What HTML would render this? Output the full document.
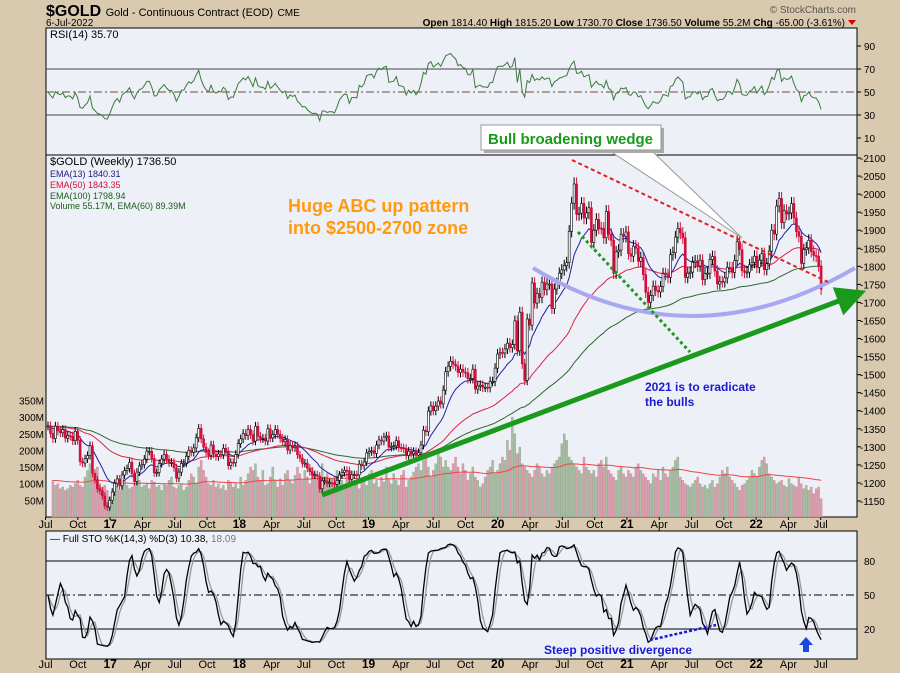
<!DOCTYPE html>
<html><head><meta charset="utf-8"><style>
body{margin:0;background:#d9c9ae;}
svg{display:block;font-family:"Liberation Sans",sans-serif;}
</style></head><body>
<svg id="chart" width="900" height="673" viewBox="0 0 900 673" xmlns="http://www.w3.org/2000/svg">
<rect x="0" y="0" width="900" height="673" fill="#d9c9ae"/>
<g>
<text x="46" y="16" font-size="16" font-weight="bold" fill="#000">$GOLD <tspan font-size="11" font-weight="normal">Gold - Continuous Contract (EOD)</tspan> <tspan font-size="10" font-weight="normal">CME</tspan></text>
<text x="46" y="26" font-size="10" fill="#000">6-Jul-2022</text>
<text x="856" y="13" font-size="10" fill="#555" text-anchor="end">© StockCharts.com</text>
<text x="845" y="26" font-size="10" fill="#000" text-anchor="end"><tspan font-weight="bold">Open</tspan> 1814.40 <tspan font-weight="bold">High</tspan> 1815.20 <tspan font-weight="bold">Low</tspan> 1730.70 <tspan font-weight="bold">Close</tspan> 1736.50 <tspan font-weight="bold">Volume</tspan> 55.2M <tspan font-weight="bold">Chg</tspan> -65.00 (-3.61%)</text>
<path d="M848,20 L856,20 L852,25 Z" fill="#d00"/>
</g>
<rect x="46" y="28" width="811" height="127" fill="#eef0f8" stroke="#000"/>
<rect x="46" y="155" width="811" height="362" fill="#eef0f8" stroke="#000"/>
<rect x="46" y="531" width="811" height="128" fill="#eef0f8" stroke="#000"/>
<g id="layers"></g>
</svg>
<script>
const closes=[1358,1337,1323,1357,1344,1339,1348,1324,1331,1330,1317,1343,1318,1259,1255,1267,1276,1303,1227,1209,1184,1178,1164,1137,1133,1152,
1175,1199,1211,1192,1222,1234,1240,1257,1226,1204,1230,1247,1251,1266,1288,1288,1268,1228,1229,1254,1266,1279,1266,1256,1257,1242,1213,1230,1254,1255,1274,1290,1285,1297,1325,1351,1322,1299,1284,1276,1305,1280,1273,1280,1278,1296,1288,1248,1257,1256,1279,1309,
1322,1337,1331,1348,1334,1316,1357,1329,1323,1324,1316,1350,1325,1334,1348,1335,1323,1314,1320,1291,1304,1298,1302,1278,1269,1254,1255,1241,1231,1222,1223,1219,1184,1206,1206,1199,1201,1200,1196,1207,1222,1229,1235,1234,1210,1223,1223,1222,1252,1248,1258,1283,
1287,1289,1282,1305,1319,1316,1327,1330,1299,1301,1303,1317,1298,1297,1295,1276,1288,1281,1287,1277,1284,1305,1346,1342,1399,1413,1400,1413,1427,1419,1457,1508,1523,1537,1529,1524,1506,1515,1507,1505,1489,1489,1515,1460,1468,1471,1465,1465,1464,1481,1481,1518,
1557,1561,1560,1571,1587,1575,1583,1649,1566,1673,1530,1484,1654,1637,1754,1698,1725,1713,1756,1735,1751,1751,1683,1737,1753,1781,1790,1802,1810,1897,1975,2028,1944,1947,1974,1934,1948,1962,1866,1900,1930,1906,1905,1879,1952,1889,1872,1781,1840,1845,1889,1883,
1895,1835,1828,1856,1850,1814,1824,1777,1728,1700,1719,1745,1733,1729,1744,1780,1777,1769,1832,1838,1881,1905,1892,1879,1769,1781,1784,1811,1815,1801,1817,1763,1780,1781,1819,1827,1787,1751,1758,1757,1768,1797,1796,1783,1816,1868,1846,1788,1783,1784,1804,1811,1828,
1797,1817,1835,1791,1807,1842,1900,1889,1967,1988,1921,1954,1945,1948,1974,1934,1896,1883,1808,1846,1851,1872,1841,1830,1828,1801,1736.5];
const volumes=[110,95,100,85,90,80,85,95,90,100,110,95,90,120,140,160,130,120,150,100,90,95,80,60,45,70,
90,80,100,110,95,85,90,100,120,110,90,95,100,85,110,105,90,95,80,100,95,110,120,90,85,95,100,80,90,110,130,120,100,150,170,140,120,100,95,110,90,100,85,95,80,110,105,90,100,85,120,95,
110,130,150,140,160,120,110,140,95,100,120,150,110,90,115,95,130,140,110,100,125,150,130,110,140,120,100,150,130,110,95,160,120,130,115,100,120,140,130,110,95,125,130,90,100,110,85,105,
120,95,130,140,100,110,90,120,105,150,115,100,130,110,95,125,140,90,110,120,135,150,160,140,170,180,150,120,140,160,190,180,150,170,150,140,160,180,150,130,160,140,110,130,150,120,110,90,100,120,140,
150,170,130,140,160,180,170,230,200,300,250,190,210,160,150,140,130,120,140,160,150,130,120,140,130,150,160,170,180,220,250,230,180,170,160,150,140,130,180,150,140,130,140,120,160,170,150,180,140,130,120,110,
140,150,130,120,140,130,120,150,160,140,130,120,110,100,130,120,140,110,150,130,120,140,150,170,180,120,110,100,95,90,100,110,120,100,90,95,85,100,110,90,100,120,140,130,150,120,110,100,90,80,95,
100,110,120,140,130,120,150,170,180,160,130,120,110,100,105,110,95,90,115,100,95,90,120,100,85,95,80,90,70,85,90,55];
const priceTicks=[2100,2050,2000,1950,1900,1850,1800,1750,1700,1650,1600,1550,1500,1450,1400,1350,1300,1250,1200,1150];
const volTicks=[350,300,250,200,150,100,50];
const rsiTicks=[90,70,50,30,10];
const stoTicks=[80,50,20];
const monthLabels=["Jul","Oct","17","Apr","Jul","Oct","18","Apr","Jul","Oct","19","Apr","Jul","Oct","20","Apr","Jul","Oct","21","Apr","Jul","Oct","22","Apr","Jul"];

const NS="http://www.w3.org/2000/svg";
const L=document.getElementById('layers');
function mk(tag,attrs,parent){const e=document.createElementNS(NS,tag);for(const k in attrs)e.setAttribute(k,attrs[k]);(parent||L).appendChild(e);return e;}
const xw=i=>48+i*2.47;
const yP=p=>158+(2100-p)*343/950;
const yV=v=>517-v*0.333;
const yR=v=>92-(v-50)*1.15;
const yS=v=>595-(v-50)*1.133;
const N=closes.length;
const opens=closes.map((c,i)=>i?closes[i-1]:c);
const highs=closes.map((c,i)=>Math.max(c,opens[i])*(1+0.009));
const lows=closes.map((c,i)=>Math.min(c,opens[i])*(1-0.009));
function ema(a,n){const k=2/(n+1);let out=[],e=a[0];a.forEach((v,i)=>{e=i?v*k+e*(1-k):v;out.push(e);});return out;}
function poly(vals,fx,fy,attrs,name){const p=mk('polyline',Object.assign({points:vals.map((v,i)=>fx(i).toFixed(1)+','+fy(v).toFixed(1)).join(' '),fill:'none'},attrs));

return p;}

const g=mk('g',{});


rsiTicks.forEach(v=>{mk('line',{x1:857,x2:861,y1:yR(v),y2:yR(v),stroke:'#000'},g);const t=mk('text',{x:864,y:yR(v)+4,'font-size':10},g);t.textContent=v;});
[70,30].forEach(v=>mk('line',{x1:46,x2:857,y1:yR(v),y2:yR(v),stroke:'#444'},g));
mk('line',{x1:46,x2:857,y1:yR(50),y2:yR(50),stroke:'#6a4a3a','stroke-dasharray':'8,3,2,3'},g);
priceTicks.forEach(v=>{mk('line',{x1:857,x2:861,y1:yP(v),y2:yP(v),stroke:'#000'},g);const t=mk('text',{x:860,y:yP(v)+4,'font-size':10},g);t.textContent='-'+v;});
volTicks.forEach(v=>{const t=mk('text',{x:44,y:yV(v)+4,'font-size':10,'text-anchor':'end'},g);t.textContent=v+'M';});
stoTicks.forEach(v=>{mk('line',{x1:46,x2:857,y1:yS(v),y2:yS(v),stroke:'#000','stroke-dasharray':v==50?'8,3,2,3':'none'},g);const t=mk('text',{x:864,y:yS(v)+4,'font-size':10},g);t.textContent=v;});
monthLabels.forEach((m,i)=>{const x=xw(-1)+i*32.3;const bold=/^\d/.test(m);
[524,664].forEach(y=>{const t=mk('text',{x:x,y:y+4,'font-size':bold?12:11,'font-weight':bold?'bold':'normal','text-anchor':'middle'},g);t.textContent=m;});
mk('line',{x1:x,x2:x,y1:517,y2:520,stroke:'#000'},g);});

const vg=mk('g',{});


const vOff=N-volumes.length;
volumes.forEach((v,j)=>{const i=j+vOff;if(i<0)return;const up=closes[i]>=opens[i];const r=mk('rect',{x:xw(i)-1,y:yV(v),width:2,height:517-yV(v),fill:up?'#a9bda5':'#d9a0b0',stroke:up?'#8ea88a':'#c98898','stroke-width':0.4},vg);

});
poly(ema(volumes,60),j=>xw(j+vOff),yV,{stroke:'#ee4444','stroke-width':1},'volume-ema60');

poly(ema(closes,100),xw,yP,{stroke:'#2a6a2a','stroke-width':1},'ema100-line');
poly(ema(closes,50),xw,yP,{stroke:'#dd2244','stroke-width':1},'ema50-line');
poly(ema(closes,13),xw,yP,{stroke:'#2020a0','stroke-width':1},'ema13-line');

const cg=mk('g',{});


closes.forEach((c,i)=>{const up=c>=opens[i];const col=up?'#000':'#d0103a';const x=xw(i);
const w=mk('line',{x1:x,x2:x,y1:yP(highs[i]),y2:yP(lows[i]),stroke:col,'stroke-width':1},cg);


const b=mk('rect',{x:x-1,y:yP(Math.max(c,opens[i])),width:2,height:Math.max(1,Math.abs(yP(c)-yP(opens[i]))),fill:up?'#fff':col,stroke:col,'stroke-width':0.6},cg);

});

function rsi(a,n){let out=[],ag=12,al=12;for(let i=0;i<a.length;i++){if(i==0){out.push(50);continue;}const d=a[i]-a[i-1];const gn=Math.max(d,0),ls=Math.max(-d,0);
ag=(ag*(n-1)+gn)/n;al=(al*(n-1)+ls)/n;out.push(al==0?100:100-100/(1+ag/al));}return out;}
poly(rsi(closes,14),xw,yR,{stroke:'#3a7a3a','stroke-width':1},'rsi-line');

const raw=closes.map((c,i)=>{const s=Math.max(0,i-13);const hh=Math.max(...highs.slice(s,i+1)),ll=Math.min(...lows.slice(s,i+1));return hh==ll?50:(c-ll)/(hh-ll)*100;});
const sma=(a,n)=>a.map((v,i)=>{const s=a.slice(Math.max(0,i-n+1),i+1);return s.reduce((p,q)=>p+q,0)/s.length;});
const K=sma(raw,3),D=sma(K,3);
poly(D,xw,yS,{stroke:'#999','stroke-width':1.3},'sto-d-line');
poly(K,xw,yS,{stroke:'#000','stroke-width':1.3},'sto-k-line');
</script>
<svg style="position:absolute;left:0;top:0" width="900" height="673">
<defs><marker id="ah" markerWidth="6" markerHeight="6" refX="3" refY="3" orient="auto"><path d="M0,0 L6,3 L0,6 Z" fill="#1a9a1a"/></marker></defs>
<text x="50" y="38" font-size="11" fill="#000">RSI(14) 35.70</text>
<g font-size="9">
<text x="50" y="165" font-size="11" fill="#000">$GOLD (Weekly) 1736.50</text>
<text x="50" y="177" fill="#1a1a80">EMA(13) 1840.31</text>
<text x="50" y="188" fill="#d0103a">EMA(50) 1843.35</text>
<text x="50" y="199" fill="#1a5a1a">EMA(100) 1798.94</text>
<text x="50" y="209" fill="#1a5a1a">Volume 55.17M, EMA(60) 89.39M</text>
</g>
<text x="50" y="542" font-size="10" fill="#000">— Full STO %K(14,3) %D(3) 10.38, <tspan fill="#777">18.09</tspan></text>
<path d="M533,268 Q690,364 855,268" fill="none" stroke="#a8a8f0" stroke-width="4"/>
<line x1="572" y1="160" x2="828" y2="282" stroke="#e02020" stroke-width="2" stroke-dasharray="4,3"/>
<line x1="578" y1="232" x2="690" y2="352" stroke="#1a9a1a" stroke-width="3" stroke-dasharray="3,3"/>
<line x1="322" y1="495" x2="852" y2="296" stroke="#1a9a1a" stroke-width="5" marker-end="url(#ah)"/>
<polygon points="610,151 652,151 742,238" fill="#fff" stroke="#999"/>
<rect x="484" y="128" width="180" height="25" fill="#aaa"/>
<rect x="481" y="125" width="180" height="25" fill="#fff" stroke="#999"/>
<text x="488" y="144" font-size="15" font-weight="bold" fill="#1a9a1a">Bull broadening wedge</text>
<text x="288" y="212" font-size="18" font-weight="bold" fill="#ff9a10">Huge ABC up pattern</text>
<text x="288" y="234" font-size="18" font-weight="bold" fill="#ff9a10">into $2500-2700 zone</text>
<text x="645" y="391" font-size="12" font-weight="bold" fill="#1a1ad0">2021 is to eradicate</text>
<text x="645" y="406" font-size="12" font-weight="bold" fill="#1a1ad0">the bulls</text>
<line x1="650" y1="640" x2="716" y2="625" stroke="#1a1ad0" stroke-width="2.5" stroke-dasharray="3,2"/>
<text x="544" y="654" font-size="12" font-weight="bold" fill="#1a1ad0">Steep positive divergence</text>
<path d="M806,637 L813,645 L809,645 L809,652 L803,652 L803,645 L799,645 Z" fill="#1a4ae0"/>
</svg>
</body></html>
